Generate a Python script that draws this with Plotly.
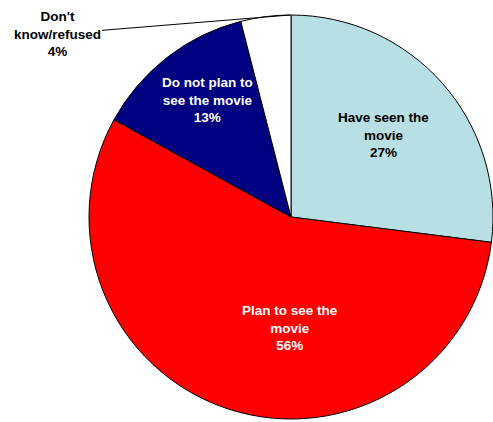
import plotly.graph_objects as go

labels = ["Have seen the movie", "Plan to see the movie", "Do not plan to see the movie", "Don't know/refused"]
values = [27, 56, 13, 4]
label_text = ["Have seen the<br>movie<br>27%", "Plan to see the<br>movie<br>56%",
              "Do not plan to<br>see the movie<br>13%", "Don't<br>know/refused<br>4%"]
colors = ["#B8DFE3", "#FF0000", "#000080", "#FFFFFF"]
text_colors = ["#000000", "#FFFFFF", "#FFFFFF", "#000000"]

W, H = 493, 422
cx, cy, r = 291, 217, 202


def px(x):
    return x / W


def py(y):
    return 1 - y / H


fig = go.Figure(go.Pie(
    labels=labels, values=values, sort=False, direction="clockwise", rotation=0,
    marker=dict(colors=colors, line=dict(color="#000000", width=1)),
    textinfo="none", hoverinfo="label+percent", showlegend=False,
    domain=dict(x=[(cx - r) / W, min(1.0, (cx + r) / W)], y=[1 - (cy + r) / H, 1 - (cy - r) / H]),
))

font = dict(family="Liberation Sans, Arial, sans-serif", size=13.5)
# label text centres in screen pixels
pos = [(383, 135), (290, 328), (207, 100)]
for (x, y), t, c in zip(pos, label_text[:3], text_colors[:3]):
    fig.add_annotation(x=px(x), y=py(y), xref="paper", yref="paper", text="<b>" + t + "</b>",
                       xanchor="center", yanchor="middle",
                       showarrow=False, font=dict(color=c, **font), align="center")

fig.add_annotation(x=px(290), y=py(15), xref="paper", yref="paper",
                   text="<b>" + label_text[3] + "</b>", font=dict(color=text_colors[3], **font),
                   align="center", showarrow=True, arrowhead=0, arrowwidth=1, arrowcolor="#000000",
                   ax=57 - 290, ay=34 - 15, standoff=0)

fig.update_layout(width=W, height=H, margin=dict(l=0, r=0, t=0, b=0),
                  paper_bgcolor="white", plot_bgcolor="white")
fig.write_html("out.html", config={"displayModeBar": False},
               post_script="document.body.style.margin='0';"
                           "document.documentElement.style.overflow='hidden';")
